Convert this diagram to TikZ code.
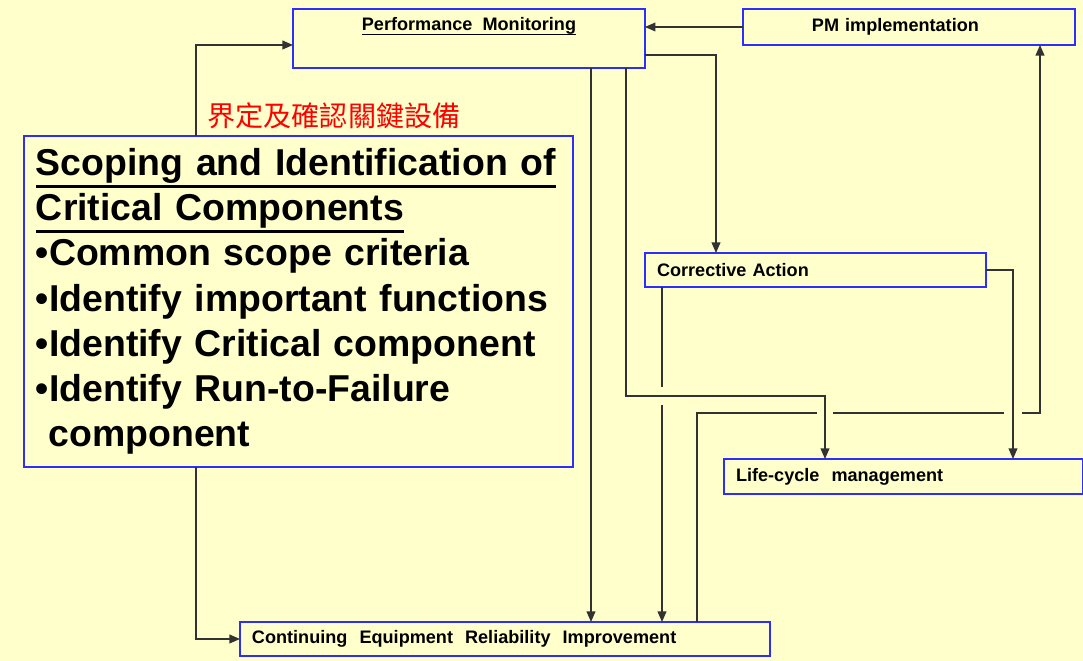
\documentclass[tikz,border=0pt]{standalone}
\usepackage{fontspec}
\setmainfont{Liberation Sans}
\newfontfamily\cjk{Noto Sans CJK TC}
\usetikzlibrary{arrows.meta}

\definecolor{paper}{RGB}{255,255,204}
\definecolor{boxblue}{RGB}{45,45,255}
\definecolor{wire}{RGB}{50,50,50}

\newcommand\boxfont{\fontsize{10.3}{12}\selectfont\bfseries}
\newcommand\bigbold{\fontsize{21.3}{25.7}\selectfont\bfseries\spaceskip=0.19em\relax}
% underline: thickness, drop below baseline, text
\newcommand\uthick[3]{\leavevmode\setbox0=\hbox{#3}\rlap{\rule[-#2]{\wd0}{#1}}\box0}

\begin{document}
\begin{tikzpicture}[x=0.02cm,y=-0.02cm,
	block/.style={draw=boxblue,line width=0.7pt,anchor=north west,inner ysep=0pt,outer sep=0pt},
	bar/.style={block,inner xsep=0.24cm,align=left,minimum height=0.68cm,font=\boxfont},
	line/.style={draw=wire,line width=0.7pt},
	link/.style={line,-{Triangle[length=6pt,width=5pt]}}]

	\useasboundingbox (0,0) rectangle (1083,661);
	\fill[paper] (0,0) rectangle (1083,661);

	% boxes
	\node[block,minimum width=7.04cm,minimum height=1.18cm] (pm) at (293,9) {};
	\node[font=\boxfont] (pmtxt) at (469,26) {\uthick{0.7pt}{2.6pt}{Performance\ \ Monitoring}};
	\node[bar,minimum height=0.72cm,inner xsep=1.38cm,text width=3.88cm] (pmi) at (743,9) {PM implementation};
	\node[text=red,font=\cjk\fontsize{16}{16}\selectfont] (tag) at (334,116) {界定及確認關鍵設備};
	\node[block,minimum height=6.62cm,text width=10.5cm,inner xsep=0.24cm,align=left,font=\bigbold] (scope) at (24,136)
	{\uthick{1.6pt}{7pt}{Scoping and Identification of}\\
	 \uthick{1.6pt}{7pt}{Critical Components}\\
	 •Common scope criteria\\
	 •Identify important functions\\
	 •Identify Critical component\\
	 •Identify Run-to-Failure\\
	 \ component};
	\node[bar,text width=6.34cm] (ca) at (645,253) {Corrective Action};
	\node[bar,text width=6.7cm,minimum height=0.7cm] (lcm) at (724,459) {Life-cycle\ \ management};
	\node[bar,text width=10.12cm] (ceri) at (240,622) {Continuing\ \ Equipment\ \ Reliability\ \ Improvement};

	% connectors
	\draw[link] (196,0 |- scope.north) |- (pm.west |- 0,45);
	\draw[link] (196,0 |- scope.south) |- (ceri.west);
	\draw[link] (pmi.west) -- (pmi.west -| pm.east);
	\draw[link] (pm.east |- 0,55) -| (716,0 |- ca.north);
	\draw[link] (591,0 |- pm.south) -- (591,0 |- ceri.north);
	\draw[link] (626,0 |- pm.south) -- (626,396) -| (825,0 |- lcm.north);
	\draw[line] (662,0 |- ca.south) -- (662,387);
	\draw[link] (662,405) -- (662,0 |- ceri.north);
	\draw[link] (ca.east) -| (1013,0 |- lcm.north);
	% return line to PM implementation
	\draw[line] (697,0 |- ceri.north) |- (817,413);
	\draw[line] (833,413) -- (1004,413);
	\draw[link] (1022,413) -| (1040,0 |- pmi.south);
\end{tikzpicture}
\end{document}
